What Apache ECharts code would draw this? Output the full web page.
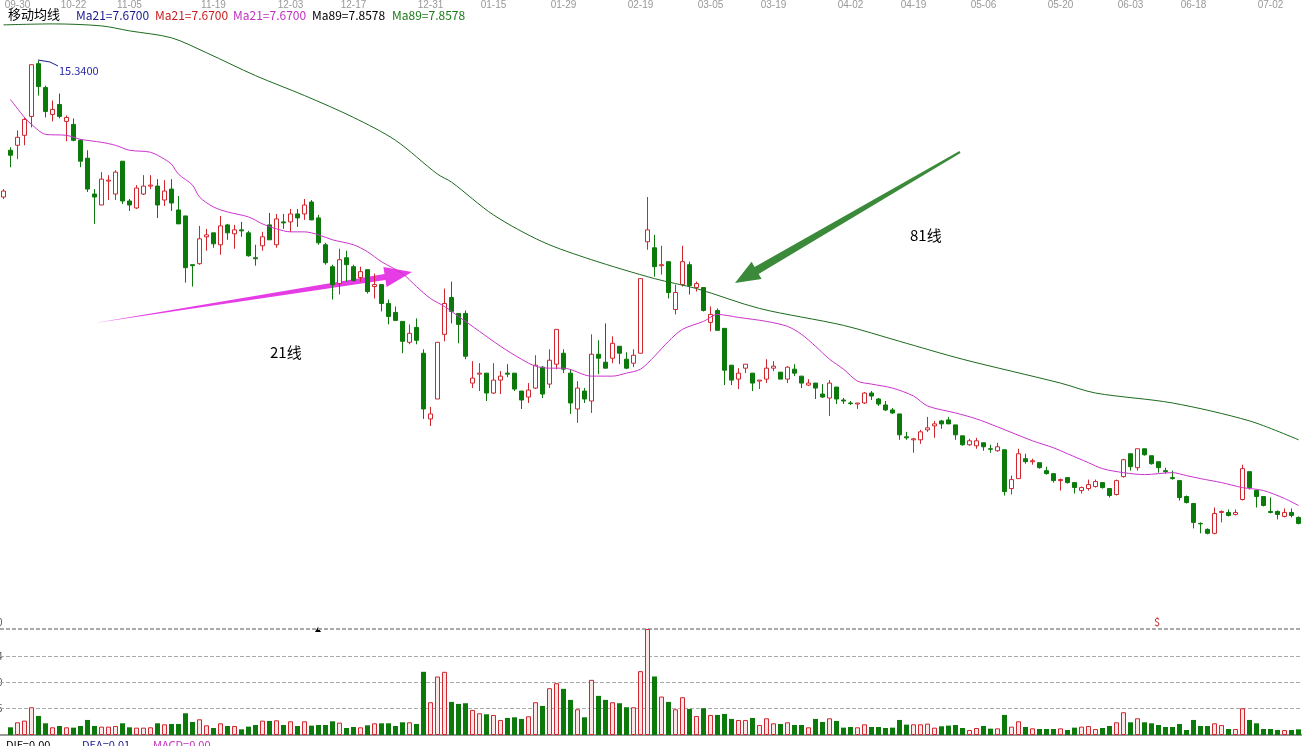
<!DOCTYPE html>
<html>
<head>
<meta charset="utf-8">
<script src="https://cdn.jsdelivr.net/npm/echarts@6/dist/echarts.min.js"></script>
<style>html,body{margin:0;padding:0;background:#fff;}#main{width:1302px;height:746px;}</style>
</head>
<body>
<div id="main"></div>
<script>
// K线数据 [open, close, low, high]
var candles = [
  [12.60,12.72,12.56,12.76],[13.54,13.44,13.20,13.60],[13.64,13.80,13.36,13.94],[13.84,14.16,13.64,14.20],[14.22,15.26,14.00,15.26],
  [15.28,14.82,14.64,15.34],[14.80,14.32,14.20,14.84],[14.26,14.36,14.12,14.54],[14.46,14.22,14.18,14.68],[14.12,14.20,13.72,14.24],
  [14.06,13.74,13.72,14.18],[13.74,13.32,13.20,13.76],[13.38,12.76,12.70,13.54],[12.66,12.60,12.06,12.76],[12.44,12.96,12.44,13.10],
  [12.92,12.94,12.54,13.04],[12.66,13.10,12.54,13.14],[13.32,12.52,12.46,13.32],[12.52,12.44,12.32,12.56],[12.38,12.78,12.36,12.84],
  [12.66,12.82,12.64,13.04],[12.82,12.84,12.76,13.04],[12.82,12.44,12.18,12.96],[12.54,12.72,12.42,12.94],[12.76,12.48,12.32,12.96],
  [12.34,12.06,12.06,12.62],[12.22,11.18,10.88,12.22],[11.24,11.22,10.80,11.24],[11.26,11.76,11.24,12.02],[11.80,11.84,11.52,11.96],
  [11.88,11.66,11.58,11.88],[11.64,12.02,11.44,12.22],[12.04,11.88,11.74,12.06],[11.86,11.94,11.56,12.04],[11.94,11.92,11.80,12.10],
  [11.88,11.42,11.40,11.92],[11.38,11.36,11.22,11.64],[11.62,11.80,11.52,11.90],[12.04,11.74,11.74,12.28],[11.64,12.16,11.58,12.26],
  [12.10,12.08,11.96,12.26],[12.10,12.26,11.90,12.36],[12.26,12.18,12.00,12.36],[12.26,12.44,12.14,12.56],[12.50,12.14,12.14,12.54],
  [12.18,11.68,11.64,12.24],[11.64,11.28,11.24,11.68],[11.20,10.84,10.54,11.24],[10.86,11.34,10.64,11.56],[11.38,11.24,10.90,11.52],
  [11.20,10.92,10.90,11.24],[10.98,11.10,10.90,11.20],[11.14,10.70,10.66,11.14],[10.80,10.84,10.56,11.06],[10.84,10.46,10.30,10.84],
  [10.46,10.20,10.04,10.54],[10.28,10.12,10.12,10.40],[10.10,9.70,9.46,10.10],[9.68,9.86,9.64,10.04],[9.98,9.72,9.64,10.16],
  [9.46,8.34,8.14,9.54],[8.14,8.24,8.00,8.38],[8.54,9.68,8.54,9.68],[9.84,10.46,9.70,10.76],[10.58,10.30,10.06,10.90],
  [10.26,10.04,9.66,10.26],[10.26,9.40,9.34,10.32],[8.86,8.96,8.76,9.30],[9.04,9.06,8.70,9.26],[9.06,8.66,8.50,9.06],
  [8.66,8.92,8.64,9.26],[8.92,9.00,8.64,9.10],[9.06,9.04,8.98,9.24],[9.06,8.74,8.70,9.06],[8.70,8.52,8.34,8.70],
  [8.58,8.72,8.46,8.86],[8.76,9.22,8.74,9.42],[9.18,8.64,8.56,9.20],[8.84,9.32,8.76,9.54],[9.24,9.94,9.14,9.94],
  [9.46,9.14,9.06,9.54],[9.06,8.46,8.24,9.14],[8.34,8.76,8.06,8.90],[8.70,8.54,8.46,8.76],[8.50,9.44,8.26,9.84],
  [9.44,9.36,9.04,9.72],[9.28,9.16,9.16,10.06],[9.36,9.66,9.26,9.80],[9.60,9.46,9.24,9.60],[9.34,9.16,9.14,9.48],
  [9.26,9.42,9.18,9.54],[9.46,10.96,9.46,10.96],[11.70,11.94,11.54,12.60],[11.58,11.20,11.00,11.84],[11.22,11.24,11.04,11.62],
  [11.30,10.68,10.56,11.30],[10.34,10.68,10.24,10.84],[10.84,11.30,10.80,11.62],[11.24,10.82,10.64,11.30],[10.78,10.86,10.70,10.90],
  [10.78,10.32,10.30,10.78],[10.08,10.24,9.90,10.40],[10.32,9.92,9.92,10.36],[9.96,9.12,8.82,9.96],[9.22,8.92,8.82,9.22],
  [8.94,9.06,8.74,9.16],[9.16,9.24,9.06,9.24],[9.06,8.86,8.70,9.06],[8.90,8.92,8.74,8.92],[8.94,9.16,8.86,9.34],
  [9.16,9.20,9.10,9.30],[9.08,8.94,8.94,9.08],[8.94,9.18,8.86,9.20],[9.14,9.06,9.00,9.24],[9.00,8.86,8.76,9.00],
  [8.82,8.86,8.80,8.94],[8.86,8.76,8.54,8.86],[8.64,8.58,8.56,8.84],[8.56,8.86,8.20,8.92],[8.78,8.54,8.44,8.78],
  [8.52,8.50,8.44,8.56],[8.46,8.45,8.42,8.50],[8.44,8.46,8.34,8.46],[8.46,8.66,8.44,8.68],[8.66,8.60,8.52,8.70],
  [8.54,8.44,8.40,8.56],[8.42,8.32,8.30,8.50],[8.32,8.26,8.24,8.36],[8.24,7.82,7.72,8.24],[7.78,7.76,7.72,7.88],
  [7.72,7.74,7.46,7.76],[7.72,7.88,7.64,7.92],[7.92,7.96,7.88,8.18],[8.00,8.04,7.76,8.10],[8.10,8.04,7.94,8.12],
  [8.12,8.04,8.04,8.18],[8.02,7.82,7.72,8.02],[7.80,7.62,7.60,7.80],[7.62,7.70,7.60,7.74],[7.60,7.70,7.54,7.76],
  [7.66,7.58,7.50,7.66],[7.54,7.53,7.46,7.62],[7.50,7.58,7.48,7.66],[7.52,6.68,6.60,7.52],[6.74,6.92,6.62,7.00],
  [6.94,7.44,6.94,7.54],[7.34,7.28,7.24,7.44],[7.28,7.30,7.22,7.34],[7.26,7.16,7.14,7.26],[7.10,7.04,7.02,7.18],
  [7.04,6.90,6.86,7.04],[6.90,6.92,6.70,6.94],[6.96,6.86,6.84,6.96],[6.86,6.76,6.64,6.86],[6.70,6.76,6.64,6.78],
  [6.74,6.82,6.70,6.92],[6.78,6.88,6.76,6.92],[6.86,6.76,6.74,6.86],[6.74,6.60,6.56,6.74],[6.62,6.90,6.60,6.92],
  [6.98,7.32,6.96,7.34],[7.44,7.18,7.10,7.44],[7.16,7.54,7.10,7.54],[7.54,7.42,7.40,7.54],[7.40,7.24,7.22,7.40],
  [7.28,7.16,7.06,7.28],[7.10,7.08,7.04,7.16],[6.96,6.94,6.92,7.10],[6.90,6.56,6.50,6.90],[6.58,6.46,6.44,6.60],
  [6.44,6.06,5.94,6.44],[6.04,6.03,5.84,6.06],[5.92,5.84,5.82,5.94],[5.84,6.24,5.82,6.36],[6.26,6.28,6.06,6.30],
  [6.26,6.20,6.18,6.32],[6.22,6.26,6.20,6.32],[6.52,7.14,6.50,7.22],[7.08,6.76,6.72,7.08],[6.70,6.58,6.36,6.70],
  [6.58,6.40,6.38,6.58],[6.28,6.26,6.24,6.56],[6.28,6.22,6.12,6.30],[6.18,6.26,6.16,6.34],[6.26,6.20,6.16,6.34],
  [6.16,6.04,6.02,6.18]
];
// 成交量
var volumes = [null,
  23,38,43,83,57,35,23,27,23,22,27,45,27,25,25,27,35,23,22,22,
  23,35,32,33,33,65,39,47,29,21,35,27,27,17,25,30,43,42,44,30,
  41,27,41,28,30,30,41,37,21,24,23,29,35,35,35,27,38,38,33,189,
  98,175,189,99,93,95,75,65,62,60,45,51,53,48,56,98,87,140,155,138,
  105,77,53,165,117,105,98,95,83,83,191,317,
  175,115,99,77,113,78,57,80,60,60,63,48,45,45,51,30,50,35,33,38,
  30,30,23,48,39,50,42,22,24,23,32,24,24,21,22,45,31,32,32,34,22,
  26,28,30,21,15,21,27,19,20,60,25,41,24,20,18,18,18,20,15,22,
  25,27,18,21,27,38,68,38,50,38,35,30,24,24,33,15,45,27,27,35,
  30,18,18,80,45,35,18,18,15,15,15,17
];
// 均线采样点 [index, value]
var ma21Pts = [[1,14.56],[3,14.20],[4,14.06],[6,13.86],[9,13.84],[11,13.76],[14,13.70],[16,13.64],[18,13.54],[21,13.50],
  [23,13.36],[24,13.26],[25,13.06],[27,12.84],[28,12.60],[30,12.40],[32,12.30],[35,12.20],[37,12.06],[39,11.96],[41,11.90],
  [43,11.90],[45,11.84],[47,11.74],[50,11.64],[52,11.50],[54,11.30],[57,11.06],[59,10.80],[61,10.56],[63,10.40],[65,10.20],
  [68,9.90],[71,9.60],[74,9.34],[76,9.20],[78,9.16],[80,9.16],[84,9.00],[87,9.00],[89,9.06],[91,9.14],[93,9.40],[95,9.70],
  [97,9.94],[100,10.10],[102,10.24],[105,10.18],[109,10.10],[112,10.00],[114,9.84],[116,9.60],[118,9.34],[120,9.14],
  [122,8.90],[124,8.84],[127,8.76],[130,8.60],[132,8.40],[136,8.26],[139,8.14],[142,7.98],[147,7.70],[150,7.56],[152,7.44],
  [155,7.26],[157,7.14],[160,7.06],[163,7.02],[167,7.06],[169,7.00],[171,6.94],[174,6.86],[177,6.76],[180,6.70],[183,6.54],[185,6.40]];
var ma89Pts = [[0,16.06],[7,16.08],[14,16.04],[18,15.94],[24,15.80],[29,15.50],[36,15.04],[43,14.64],[50,14.20],[56,13.74],
  [62,13.06],[64,12.90],[70,12.24],[77,11.70],[84,11.34],[93,10.96],[99,10.76],[108,10.36],[120,10.02],[128,9.70],[137,9.34],
  [151,8.86],[156,8.66],[167,8.46],[178,8.10],[185,7.72]];
// 顶部日期
var dateTicks = [[2,'09-30'],[10,'10-22'],[18,'11-05'],[30,'11-19'],[41,'12-03'],[50,'12-17'],[61,'12-31'],[70,'01-15'],
  [80,'01-29'],[91,'02-19'],[101,'03-05'],[110,'03-19'],[121,'04-02'],[130,'04-19'],[140,'05-06'],[151,'05-20'],
  [161,'06-03'],[170,'06-18'],[181,'07-02']];

var n = candles.length;
var cats = [], ma21 = [], ma89 = [];
for (var i = 0; i < n; i++) { cats.push(''); ma21.push(null); ma89.push(null); }
dateTicks.forEach(function (d) { cats[d[0]] = d[1]; });
ma21Pts.forEach(function (p) { ma21[p[0]] = p[1]; });
ma89Pts.forEach(function (p) { ma89[p[0]] = p[1]; });

var RED = '#d0262e', GREEN = '#0b7a0b';
var volData = volumes.map(function (v, i) {
  var up = candles[i][1] >= candles[i][0];
  return { value: v, itemStyle: up ? { color: '#fde6e6', borderColor: RED, borderWidth: 1 } : { color: GREEN } };
});

var chart = echarts.init(document.getElementById('main'));
var font = '"Noto Sans CJK SC", sans-serif';
chart.setOption({
  animation: false,
  backgroundColor: '#fff',
  grid: [
    { left: 0, width: 1302, top: 0, height: 600 },
    { left: 0, width: 1302, top: 628, height: 107 }
  ],
  xAxis: [
    { type: 'category', data: cats, gridIndex: 0, position: 'top',
      axisLine: { show: false }, axisTick: { show: false },
      axisLabel: { interval: 0, color: '#999', fontSize: 10, margin: -7 }, splitLine: { show: false } },
    { type: 'category', data: cats, gridIndex: 1,
      axisLine: { lineStyle: { color: '#999', width: 2 } }, axisTick: { show: false }, axisLabel: { show: false } }
  ],
  yAxis: [
    { gridIndex: 0, min: 4.5, max: 16.5, show: false, splitLine: { show: false } },
    { gridIndex: 1, min: 0, max: 320, interval: 79, axisLine: { show: false }, axisTick: { show: false },
      axisLabel: { show: false }, splitLine: { lineStyle: { color: '#aaa', type: 'dashed' } } }
  ],
  series: [
    { type: 'candlestick', data: candles, barWidth: 5,
      itemStyle: { color: '#fff', color0: GREEN, borderColor: RED, borderColor0: GREEN, borderWidth: 1 } },
    { type: 'line', data: ma21, connectNulls: true, smooth: 0.3, symbol: 'none',
      lineStyle: { color: '#cc33cc', width: 1 } },
    { type: 'line', data: ma89, connectNulls: true, smooth: 0.3, symbol: 'none',
      lineStyle: { color: '#1d6a1d', width: 1 } },
    { type: 'bar', data: volData, xAxisIndex: 1, yAxisIndex: 1, barWidth: 5 }
  ],
  graphic: [
    { type: 'text', left: 8, top: 8, style: { text: '移动均线', fill: '#000', font: '13px ' + font } },
    { type: 'text', left: 76, top: 9, style: { text: 'Ma21=7.6700', fill: '#1a1a8c', font: '12px ' + font } },
    { type: 'text', left: 155, top: 9, style: { text: 'Ma21=7.6700', fill: '#c81e1e', font: '12px ' + font } },
    { type: 'text', left: 233, top: 9, style: { text: 'Ma21=7.6700', fill: '#c030c0', font: '12px ' + font } },
    { type: 'text', left: 312, top: 9, style: { text: 'Ma89=7.8578', fill: '#000', font: '12px ' + font } },
    { type: 'text', left: 392, top: 9, style: { text: 'Ma89=7.8578', fill: '#1a7a1a', font: '12px ' + font } },
    { type: 'polyline', shape: { points: [[38, 60], [50, 62], [58, 66]] }, style: { stroke: '#1a1a8c', lineWidth: 1 } },
    { type: 'text', left: 59, top: 65, style: { text: '15.3400', fill: '#2a2aa8', font: '11px ' + font } },
    { type: 'polygon', shape: { points: [[95, 323], [384.5, 274], [383.4, 267], [412, 272], [386.6, 287], [385.5, 280]] },
      style: { fill: '#e63ce6' } },
    { type: 'polygon', shape: { points: [[959.5, 151.1], [754.6, 266.9], [751.6, 261.7], [735, 283], [761.6, 279], [758.6, 273.9], [960.5, 152.9]] },
      style: { fill: '#3a8a3a' } },
    { type: 'text', left: 270, top: 345, style: { text: '21线', fill: '#000', font: '15px ' + font } },
    { type: 'text', left: 910, top: 228, style: { text: '81线', fill: '#000', font: '15px ' + font } },
    { type: 'text', left: 1154, top: 616, style: { text: '$', fill: '#d0262e', font: '11px ' + font } },
    { type: 'polygon', shape: { points: [[315, 632], [321, 632], [318, 627]] }, style: { fill: '#000' } },
    { type: 'text', left: -3, top: 617, style: { text: '0', fill: '#555', font: '10px ' + font } },
    { type: 'text', left: -3, top: 651, style: { text: '4', fill: '#555', font: '10px ' + font } },
    { type: 'text', left: -3, top: 677, style: { text: '0', fill: '#555', font: '10px ' + font } },
    { type: 'text', left: -3, top: 703, style: { text: '5', fill: '#555', font: '10px ' + font } },
    { type: 'text', left: 6, top: 739, style: { text: 'DIF=0.00', fill: '#000', font: '11px ' + font } },
    { type: 'text', left: 82, top: 739, style: { text: 'DEA=0.01', fill: '#1a1a8c', font: '11px ' + font } },
    { type: 'text', left: 153, top: 739, style: { text: 'MACD=0.00', fill: '#c030c0', font: '11px ' + font } }
  ]
});
</script>
</body>
</html>
